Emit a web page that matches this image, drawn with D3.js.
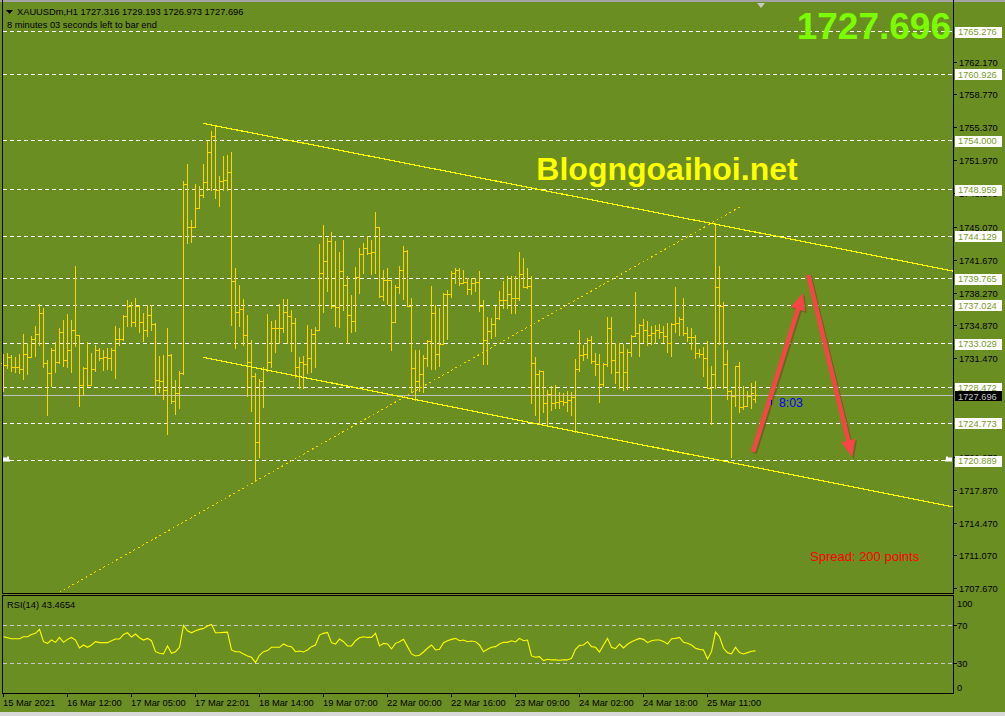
<!DOCTYPE html>
<html>
<head>
<meta charset="utf-8">
<script src="https://cdn.jsdelivr.net/npm/d3@7"></script>
<style>
html, body { margin: 0; padding: 0; background: #6b8e23; }
svg { display: block; }
text { font-family: "Liberation Sans", Arial, sans-serif; }
</style>
</head>
<body>
<svg id="chart" width="1005" height="716"></svg>
<script>
// XAUUSDm H1 - bars (index 0 = first bar on the left)
var barOpen = [
1731.0,1730.8,1731.6,1730.6,1730.6,1730.4,1732.0,1731.7,1733.5,1734.0,
1736.2,1731.0,1730.0,1732.4,1731.1,1734.2,1731.3,1732.4,1734.4,1733.9,
1728.7,1730.5,1728.8,1730.4,1732.4,1731.5,1731.6,1731.5,1732.4,1733.5,
1733.5,1735.9,1736.9,1735.3,1736.9,1735.3,1734.4,1736.0,1735.1,1729.3,
1729.2,1728.2,1731.9,1727.1,1727.9,1730.0,1749.6,1745.1,1745.1,1747.1,
1748.4,1749.8,1752.9,1754.5,1748.9,1749.9,1750.0,1750.8,1739.5,1736.3,
1736.6,1733.9,1731.1,1729.7,1722.9,1729.2,1730.4,1731.1,1734.6,1734.7,
1734.7,1736.3,1735.9,1735.2,1730.6,1731.1,1730.9,1731.5,1734.0,1734.4,
1740.3,1741.6,1743.7,1736.9,1736.8,1740.5,1739.1,1736.0,1735.4,1739.9,
1742.3,1742.9,1742.4,1742.5,1745.1,1738.0,1739.6,1739.6,1735.3,1738.9,
1740.7,1742.6,1736.9,1730.5,1729.2,1729.9,1731.5,1733.3,1736.2,1732.0,
1733.0,1738.2,1738.2,1740.3,1740.6,1739.3,1739.4,1738.7,1739.3,1739.4,
1736.9,1733.4,1734.3,1735.1,1735.7,1737.5,1737.5,1738.2,1737.8,1737.8,
1740.2,1738.9,1739.0,1731.0,1729.9,1730.2,1726.9,1727.8,1726.9,1727.0,
1727.1,1727.0,1727.2,1727.5,1730.4,1731.9,1732.0,1733.4,1731.2,1730.9,
1728.9,1730.9,1734.7,1731.3,1730.1,1732.2,1730.1,1732.2,1733.8,1734.1,
1735.0,1734.4,1733.9,1734.1,1734.4,1734.2,1733.8,1733.1,1735.1,1735.2,
1735.6,1734.1,1733.7,1733.7,1732.1,1732.0,1731.5,1728.4,1729.9,1738.9,
1736.9,1730.9,1728.1,1727.6,1730.7,1726.5,1726.6,1727.6,1727.316
];
var barHigh = [
1732.0,1732.1,1731.9,1731.7,1732.0,1734.0,1733.1,1733.8,1734.9,1737.1,
1736.7,1731.3,1732.6,1733.2,1734.7,1735.5,1736.1,1735.5,1741.1,1733.9,
1730.6,1733.2,1732.1,1732.9,1732.6,1732.4,1732.6,1732.6,1734.9,1734.6,
1736.0,1737.5,1737.3,1737.8,1737.0,1736.2,1737.0,1737.0,1735.2,1731.8,
1731.9,1734.6,1732.0,1729.3,1730.2,1749.9,1751.6,1745.8,1749.6,1749.3,
1751.6,1754.0,1755.0,1755.5,1750.4,1752.4,1752.5,1752.9,1740.9,1739.1,
1737.6,1736.0,1733.4,1730.0,1729.4,1730.6,1736.1,1735.4,1735.5,1737.1,
1737.6,1737.7,1736.5,1735.7,1731.7,1731.8,1735.0,1734.5,1734.8,1743.3,
1745.3,1744.0,1744.6,1743.6,1742.5,1743.8,1740.0,1738.1,1741.0,1742.9,
1743.4,1744.2,1743.8,1746.6,1745.1,1740.7,1740.9,1739.6,1739.1,1741.1,
1743.1,1742.7,1737.8,1732.4,1732.4,1731.9,1733.4,1739.0,1737.0,1736.7,
1738.3,1738.6,1740.5,1740.9,1740.9,1740.7,1739.8,1739.8,1739.8,1740.5,
1737.5,1735.8,1735.7,1736.9,1738.5,1739.5,1740.0,1740.0,1740.0,1742.5,
1741.9,1740.9,1740.0,1731.7,1730.3,1730.2,1728.2,1728.6,1728.7,1728.0,
1727.9,1728.1,1728.0,1731.4,1734.4,1732.9,1733.6,1733.8,1732.1,1732.0,
1731.0,1735.8,1735.8,1733.1,1733.1,1733.0,1732.5,1733.9,1738.4,1735.1,
1735.6,1735.4,1734.9,1735.0,1735.1,1734.9,1735.2,1735.2,1738.9,1735.8,
1737.8,1734.8,1734.6,1733.9,1732.5,1732.7,1733.3,1730.7,1745.5,1741.1,
1737.3,1732.4,1728.2,1730.7,1731.1,1728.6,1728.1,1729.0,1729.193
];
var barLow = [
1728.1,1730.5,1730.2,1730.1,1730.0,1729.4,1729.9,1731.6,1731.8,1732.9,
1730.6,1725.6,1728.6,1730.1,1731.0,1730.7,1730.6,1730.1,1732.8,1726.6,
1727.7,1728.6,1728.8,1730.2,1731.3,1730.3,1730.4,1730.3,1729.5,1732.9,
1733.4,1734.9,1734.9,1734.9,1734.2,1733.3,1733.8,1734.4,1727.7,1728.0,
1727.3,1723.7,1726.9,1725.7,1726.4,1729.9,1743.4,1743.5,1745.1,1747.1,
1748.2,1748.9,1748.9,1748.1,1747.3,1748.9,1748.9,1735.0,1732.6,1734.9,
1732.9,1727.6,1726.1,1718.9,1721.3,1726.5,1730.2,1730.6,1732.2,1733.1,
1734.2,1733.1,1732.3,1729.6,1728.4,1728.4,1730.0,1730.1,1730.6,1734.4,
1736.3,1738.5,1736.7,1734.9,1734.8,1736.5,1733.1,1734.2,1734.3,1738.3,
1740.3,1742.3,1740.2,1740.3,1737.9,1737.5,1737.1,1732.4,1735.3,1738.3,
1737.7,1736.9,1728.0,1727.2,1728.1,1728.0,1730.7,1730.4,1730.4,1730.7,
1733.0,1733.5,1737.9,1739.3,1739.1,1739.3,1738.2,1738.2,1738.5,1736.4,
1730.9,1730.9,1733.6,1733.8,1735.6,1736.7,1736.7,1736.2,1736.2,1737.5,
1738.9,1738.8,1726.9,1725.6,1724.7,1726.0,1724.6,1726.2,1726.4,1726.4,
1726.7,1726.1,1725.6,1723.9,1730.2,1731.3,1731.5,1731.0,1729.8,1727.0,
1728.6,1730.7,1730.0,1729.0,1728.4,1728.2,1728.3,1731.8,1733.8,1731.8,
1733.2,1732.9,1733.0,1733.1,1733.6,1733.2,1732.2,1731.8,1734.2,1733.9,
1733.9,1733.3,1732.5,1731.5,1731.7,1729.7,1728.4,1724.7,1728.4,1733.0,
1728.4,1727.3,1721.3,1726.6,1726.0,1726.3,1726.6,1726.4,1726.973
];
var barClose = [
1730.8,1731.6,1730.6,1730.6,1730.4,1732.0,1731.7,1733.5,1734.0,1736.2,
1731.0,1730.0,1732.4,1731.1,1734.2,1731.3,1732.4,1734.4,1733.9,1728.7,
1730.5,1728.8,1730.4,1732.4,1731.5,1731.6,1731.5,1732.4,1733.5,1733.5,
1735.9,1736.9,1735.3,1736.9,1735.3,1734.4,1736.0,1735.1,1729.3,1729.2,
1728.2,1731.9,1727.1,1727.9,1730.0,1749.6,1745.1,1745.1,1747.1,1748.4,
1749.8,1752.9,1754.5,1748.9,1749.9,1750.0,1750.8,1739.5,1736.3,1736.6,
1733.9,1731.1,1729.7,1722.9,1729.2,1730.4,1731.1,1734.6,1734.7,1734.7,
1736.3,1735.9,1735.2,1730.6,1731.1,1730.9,1731.5,1734.0,1734.4,1740.3,
1741.6,1743.7,1736.9,1736.8,1740.5,1739.1,1736.0,1735.4,1739.9,1742.3,
1742.9,1742.4,1742.5,1745.1,1738.0,1739.6,1739.6,1735.3,1738.9,1740.7,
1742.6,1736.9,1730.5,1729.2,1729.9,1731.5,1733.3,1736.2,1732.0,1733.0,
1738.2,1738.2,1740.3,1740.6,1739.3,1739.4,1738.7,1739.3,1739.4,1736.9,
1733.4,1734.3,1735.1,1735.7,1737.5,1737.5,1738.2,1737.8,1737.8,1740.2,
1738.9,1739.0,1731.0,1729.9,1730.2,1726.9,1727.8,1726.9,1727.0,1727.1,
1727.0,1727.2,1727.5,1730.4,1731.9,1732.0,1733.4,1731.2,1730.9,1728.9,
1730.9,1734.7,1731.3,1730.1,1732.2,1730.1,1732.2,1733.8,1734.1,1735.0,
1734.4,1733.9,1734.1,1734.4,1734.2,1733.8,1733.1,1735.1,1735.2,1735.6,
1734.1,1733.7,1733.7,1732.1,1732.0,1731.5,1728.4,1729.9,1738.9,1736.9,
1730.9,1728.1,1727.6,1730.7,1726.5,1726.6,1727.6,1727.9,1727.696
];
// RSI(14), one value per bar
var rsiValues = [
58.0,57.0,56.0,56.0,56.0,58.0,58.0,60.4,61.5,65.6,
52.9,51.2,54.6,52.2,57.3,52.2,55.3,57.3,54.6,46.4,
49.5,47.1,49.5,52.9,51.9,51.9,51.9,53.9,55.6,55.6,
60.4,62.1,57.7,60.8,57.0,54.6,56.3,53.9,42.6,40.9,
40.3,48.5,40.9,42.6,47.1,69.7,64.2,62.1,64.2,65.6,
66.6,69.0,70.7,62.1,62.1,62.5,62.8,44.4,42.6,42.6,
40.3,38.2,36.8,31.4,38.9,42.6,43.7,47.1,47.1,47.1,
50.5,48.5,47.8,42.6,43.3,42.3,44.4,47.8,49.5,59.7,
61.5,62.5,51.9,50.5,55.6,52.9,48.5,48.5,53.9,57.0,
58.0,57.3,57.3,61.5,48.5,51.2,50.5,45.4,51.2,52.9,
55.3,47.8,40.3,38.2,38.9,42.3,46.1,49.5,44.4,45.0,
51.9,53.9,55.3,56.3,53.9,54.6,52.9,53.6,52.9,49.5,
42.6,45.0,47.1,47.8,50.5,52.2,52.2,53.9,52.6,56.3,
53.9,54.6,38.2,36.8,37.5,33.4,34.8,34.1,34.1,33.8,
34.1,34.1,35.8,45.0,49.1,49.5,52.9,47.8,47.1,42.3,
49.5,56.3,47.1,45.7,50.5,46.4,50.2,52.9,54.6,56.3,
55.3,51.9,53.9,54.6,54.6,53.2,50.5,56.0,56.3,57.3,
52.2,51.2,49.5,46.1,45.0,44.4,35.1,42.6,62.8,58.0,
46.1,41.6,40.3,47.1,41.6,40.3,41.6,43.0,43.4654
];

// horizontal levels drawn on the chart
var levelPrices = [1765.276, 1760.926, 1754.000, 1748.959, 1744.129, 1739.765,
                   1737.024, 1733.029, 1728.472, 1724.773, 1720.889];
// scale labels that are not fully covered by a level label
var priceTicks = [1762.170, 1758.770, 1755.370, 1751.970, 1748.570, 1745.070, 1741.670,
                  1738.270, 1734.870, 1731.470, 1721.270, 1717.870,
                  1714.470, 1711.070, 1707.670];
var timeLabels = ["15 Mar 2021", "16 Mar 12:00", "17 Mar 05:00", "17 Mar 22:01", "18 Mar 14:00",
                  "19 Mar 07:00", "22 Mar 00:00", "22 Mar 16:00", "23 Mar 09:00", "24 Mar 02:00",
                  "24 Mar 18:00", "25 Mar 11:00"];
var timeLabelBars = [0, 16, 32, 48, 64, 80, 96, 112, 128, 144, 160, 176];
var rsiLevels = [70, 30];
var rsiTicks = [100, 70, 30, 0];
var lastPrice = 1727.696;

// drawn objects: [bar index, price] anchors
var channelTop = [[49.85, 1755.83], [188, 1744.57]];
var channelBottom = [[49.85, 1731.62], [188, 1720.22]];
var dottedLine = [[14, 1707.3], [184.85, 1747.35]];
var arrowUp = [[187.4, 1721.82], [199.9, 1738.27]];
var arrowDown = [[201.2, 1740.14], [212.2, 1721.30]];

// SETUP
var svg = d3.select("#chart");
var panelRight = 953, mainBottom = 593, rsiTop = 595, rsiBottom = 693;

var x = d3.scaleLinear().domain([0, 237.375]).range([3.5, panelRight]);
var y = d3.scaleLinear().domain([1707.23, 1768.38]).range([mainBottom, 2]);
var yr = d3.scaleLinear().domain([0, 100]).range([rsiBottom, 596]);

function px(v) { return Math.round(v - 0.5) + 0.5; }

svg.append("rect").attr("width", 1005).attr("height", 716).attr("fill", "#6b8e23");
svg.append("rect").attr("width", 1005).attr("height", 2).attr("fill", "#a4a4a4");
svg.append("rect").attr("y", 712).attr("width", 1005).attr("height", 4).attr("fill", "#d8d8d8");

var defs = svg.append("defs");
defs.append("clipPath").attr("id", "clipMain")
  .append("rect").attr("x", 3).attr("y", 2).attr("width", panelRight - 3).attr("height", mainBottom - 2);
defs.append("clipPath").attr("id", "clipRsi")
  .append("rect").attr("x", 3).attr("y", rsiTop + 1).attr("width", panelRight - 3).attr("height", rsiBottom - rsiTop - 1);

// level lines (dashed white)
svg.append("g").selectAll("line")
  .data(levelPrices)
  .enter().append("line")
    .attr("x1", 3).attr("x2", panelRight)
    .attr("y1", function(d) { return px(y(d)); })
    .attr("y2", function(d) { return px(y(d)); })
    .attr("stroke", "#ffffff")
    .attr("stroke-dasharray", "4,3")
    .attr("shape-rendering", "crispEdges");

// current price line
svg.append("line")
  .attr("x1", 3).attr("x2", panelRight)
  .attr("y1", px(y(lastPrice))).attr("y2", px(y(lastPrice)))
  .attr("stroke", "#c0c0c0")
  .attr("shape-rendering", "crispEdges");

// OHLC bars
var bars = svg.append("g").attr("shape-rendering", "crispEdges").attr("fill", "#ffd700");
barClose.forEach(function(c, i) {
  var xi = Math.round(x(i) - 0.5);
  var top = Math.round(y(barHigh[i])), bot = Math.round(y(barLow[i]));
  bars.append("rect").attr("x", xi).attr("y", top).attr("width", 1).attr("height", Math.max(1, bot - top + 1));
  bars.append("rect").attr("x", xi - 2).attr("y", Math.round(y(barOpen[i]))).attr("width", 2).attr("height", 1);
  bars.append("rect").attr("x", xi + 1).attr("y", Math.round(y(c))).attr("width", 2).attr("height", 1);
});

// trend lines
var trend = svg.append("g").attr("clip-path", "url(#clipMain)");
function rayEnd(a) {
  var s = (a[1][1] - a[0][1]) / (a[1][0] - a[0][0]);
  var bEnd = x.domain()[1];
  return [bEnd, a[0][1] + s * (bEnd - a[0][0])];
}
[channelTop, channelBottom].forEach(function(a) {
  var e = rayEnd(a);
  trend.append("line")
    .attr("x1", x(a[0][0])).attr("y1", y(a[0][1]))
    .attr("x2", x(e[0])).attr("y2", y(e[1]))
    .attr("stroke", "#ffff00").attr("stroke-width", 1.2)
    .attr("shape-rendering", "crispEdges");
});
trend.append("line")
  .attr("x1", x(dottedLine[0][0])).attr("y1", y(dottedLine[0][1]))
  .attr("x2", x(dottedLine[1][0])).attr("y2", y(dottedLine[1][1]))
  .attr("stroke", "#ffd700").attr("stroke-dasharray", "2,3")
  .attr("shape-rendering", "crispEdges");

// red arrows
function drawArrow(a) {
  var x0 = x(a[0][0]), y0 = y(a[0][1]), x1 = x(a[1][0]), y1 = y(a[1][1]);
  var dx = x1 - x0, dy = y1 - y0, len = Math.sqrt(dx * dx + dy * dy);
  var ux = dx / len, uy = dy / len, nx = -uy, ny = ux;
  var hl = 17, hw = 7.5, sw = 2.3;
  var bx = x1 - ux * hl, by = y1 - uy * hl;
  var pts = [
    [x0 + nx * sw, y0 + ny * sw], [bx + nx * sw, by + ny * sw], [bx + nx * hw, by + ny * hw],
    [x1, y1], [bx - nx * hw, by - ny * hw], [bx - nx * sw, by - ny * sw], [x0 - nx * sw, y0 - ny * sw]
  ];
  var g = svg.append("g");
  g.append("polygon")
    .attr("points", pts.map(function(p) { return (p[0] + 1.5) + "," + (p[1] + 1.5); }).join(" "))
    .attr("fill", "#4a4a10").attr("opacity", 0.45);
  g.append("polygon")
    .attr("points", pts.map(function(p) { return p[0] + "," + p[1]; }).join(" "))
    .attr("fill", "#f54545");
}
drawArrow(arrowUp);
drawArrow(arrowDown);

// alert markers on the 1720.889 level
var ya = px(y(levelPrices[10]));
svg.append("path").attr("d", "M3," + (ya - 3) + "h4v-1h2v3h1v2h-7z").attr("fill", "#ffffff");
svg.append("path").attr("d", "M952," + (ya - 3) + "h-4v-1h-2v3h-1v2h7z").attr("fill", "#ffffff");

// RSI panel
svg.append("g").selectAll("line")
  .data(rsiLevels)
  .enter().append("line")
    .attr("x1", 3).attr("x2", panelRight)
    .attr("y1", function(d) { return px(yr(d)); })
    .attr("y2", function(d) { return px(yr(d)); })
    .attr("stroke", "#c8c8c8")
    .attr("stroke-dasharray", "4,3")
    .attr("shape-rendering", "crispEdges");

var rsiLine = d3.line()
  .x(function(d, i) { return x(i); })
  .y(function(d) { return yr(d); });
svg.append("path")
  .datum(rsiValues)
  .attr("clip-path", "url(#clipRsi)")
  .attr("d", rsiLine)
  .attr("fill", "none")
  .attr("stroke", "#ffff00")
  .attr("stroke-width", 1.1);

// frames
var frame = svg.append("g").attr("stroke", "#000").attr("fill", "none").attr("shape-rendering", "crispEdges");
frame.append("path").attr("d", "M2.5,0V" + (mainBottom + 0.5) + "H" + (panelRight + 0.5) + "V0");
frame.append("path").attr("d", "M2.5," + (rsiTop + 0.5) + "H" + (panelRight + 0.5) + "V" + (rsiBottom + 0.5) + "H2.5Z");

// price axis
var axis = svg.append("g");
axis.selectAll("line.tick")
  .data(priceTicks)
  .enter().append("line")
    .attr("x1", panelRight).attr("x2", panelRight + 4)
    .attr("y1", function(d) { return px(y(d)); })
    .attr("y2", function(d) { return px(y(d)); })
    .attr("stroke", "#000").attr("shape-rendering", "crispEdges");
axis.selectAll("text.tick")
  .data(priceTicks)
  .enter().append("text")
    .attr("x", 959)
    .attr("y", function(d) { return y(d) + 3.5; })
    .attr("font-size", "9.3px")
    .attr("fill", "#000")
    .text(function(d) { return d.toFixed(3); });

// level labels
var lv = svg.append("g");
levelPrices.forEach(function(p) {
  lv.append("rect").attr("x", 955).attr("y", Math.round(y(p)) - 5).attr("width", 47).attr("height", 11).attr("fill", "#ffffff");
  lv.append("text").attr("x", 958).attr("y", y(p) + 3.5)
    .attr("font-size", "9.3px").attr("fill", "#7a9a2a").text(p.toFixed(3));
});
lv.append("rect").attr("x", 955).attr("y", Math.round(y(lastPrice)) - 4).attr("width", 47).attr("height", 10).attr("fill", "#000");
lv.append("text").attr("x", 958).attr("y", y(lastPrice) + 4.5)
  .attr("font-size", "9.3px").attr("fill", "#c8c8c8").text(lastPrice.toFixed(3));

// RSI axis
svg.selectAll("line.rtick")
  .data(rsiLevels)
  .enter().append("line")
    .attr("x1", panelRight).attr("x2", panelRight + 4)
    .attr("y1", function(d) { return px(yr(d)); })
    .attr("y2", function(d) { return px(yr(d)); })
    .attr("stroke", "#000").attr("shape-rendering", "crispEdges");
svg.selectAll("text.rtick")
  .data(rsiTicks)
  .enter().append("text")
    .attr("x", 957)
    .attr("y", function(d) { return Math.min(687, Math.max(603, yr(d))) + 3.5; })
    .attr("font-size", "9.3px")
    .attr("fill", "#000")
    .text(function(d) { return d; });

// time axis
var tAxis = svg.append("g");
timeLabelBars.forEach(function(b, k) {
  var xi = px(x(b));
  tAxis.append("line").attr("x1", xi).attr("x2", xi).attr("y1", rsiBottom).attr("y2", rsiBottom + 4)
    .attr("stroke", "#000").attr("shape-rendering", "crispEdges");
  tAxis.append("text").attr("x", xi - 0.5).attr("y", 706)
    .attr("font-size", "9.3px").attr("fill", "#000").text(timeLabels[k]);
});

// header texts
svg.append("path").attr("d", "M6,10h7l-3.5,4z").attr("fill", "#000");
svg.append("text").attr("x", 17).attr("y", 15).attr("font-size", "9.3px").attr("fill", "#000")
  .text("XAUUSDm,H1  " + [barOpen[188], barHigh[188], barLow[188], barClose[188]].map(function(v) { return v.toFixed(3); }).join(" "));
svg.append("text").attr("x", 7).attr("y", 27.5).attr("font-size", "9.3px").attr("fill", "#000")
  .text("8 minutes 03 seconds left to bar end");
svg.append("text").attr("x", 7).attr("y", 607.5).attr("font-size", "9.3px").attr("fill", "#000")
  .text("RSI(14) " + rsiValues[188].toFixed(4));

// shift marker
svg.append("path").attr("d", "M757,3h8l-4,5z").attr("fill", "#c8c8c8");

// overlay texts
svg.append("text").attr("x", 951).attr("y", 39).attr("text-anchor", "end")
  .attr("font-size", "37px").attr("font-weight", "bold").attr("fill", "#7cfc00")
  .text(lastPrice.toFixed(3));
svg.append("text").attr("x", 667).attr("y", 180).attr("text-anchor", "middle")
  .attr("font-size", "32px").attr("font-weight", "bold").attr("fill", "#ffff00")
  .text("Blogngoaihoi.net");
svg.append("rect").attr("x", 771).attr("y", 400).attr("width", 1).attr("height", 5).attr("fill", "#0000ff");
svg.append("text").attr("x", 779).attr("y", 407).attr("font-size", "12.3px").attr("fill", "#0000ff")
  .text("8:03");
svg.append("text").attr("x", 810).attr("y", 561).attr("font-size", "13px").attr("fill", "#ff0000")
  .text("Spread: 200 points");
</script>
</body>
</html>
